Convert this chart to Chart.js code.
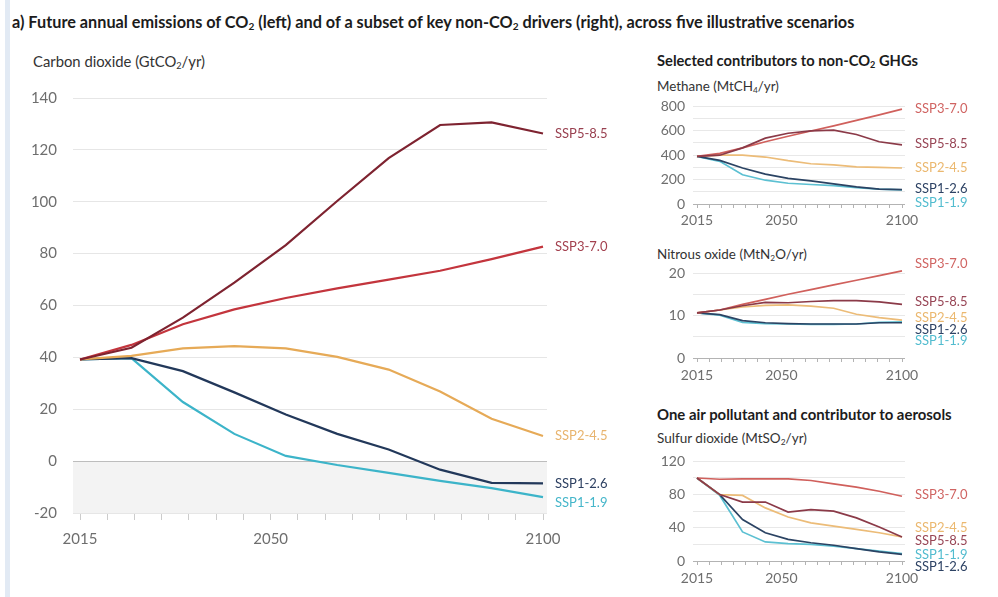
<!DOCTYPE html>
<html>
<head>
<meta charset="utf-8">
<script src="https://cdn.jsdelivr.net/npm/chart.js@4.4.1/dist/chart.umd.min.js"></script>
<style>
  html, body { margin: 0; padding: 0; background: #fff; }
  body { width: 998px; height: 597px; position: relative; overflow: hidden; font-family: Lato, "Noto Sans", sans-serif; }
  .edge { position: absolute; left: 5px; top: 0; width: 5px; height: 597px; background: #e2eaf4; }
  .txt { position: absolute; white-space: nowrap; line-height: 1; color: #333; }
  .bold { font-weight: 700; color: #1c1c1c; }
  sub { font-size: 0.62em; vertical-align: -0.2em; line-height: 0; }
  canvas { position: absolute; }
</style>
</head>
<body>
<div class="edge"></div>

<div class="txt bold" style="left:12px; top:14px; font-size:15px;" data-w="843">a) Future annual emissions of CO<sub>2</sub> (left) and of a subset of key non-CO<sub>2</sub> drivers (right), across five illustrative scenarios</div>
<div class="txt" style="left:33px; top:54px; font-size:14px;" data-w="172">Carbon dioxide (GtCO<sub>2</sub>/yr)</div>

<div class="txt bold" style="left:657px; top:54px; font-size:14px;" data-w="261">Selected contributors to non-CO<sub>2</sub> GHGs</div>
<div class="txt" style="left:657px; top:80px; font-size:13px;" data-w="122">Methane (MtCH<sub>4</sub>/yr)</div>
<div class="txt" style="left:657px; top:248px; font-size:13px;" data-w="150">Nitrous oxide (MtN<sub>2</sub>O/yr)</div>
<div class="txt bold" style="left:657px; top:407px; font-size:14px;" data-w="295">One air pollutant and contributor to aerosols</div>
<div class="txt" style="left:657px; top:432px; font-size:13px;" data-w="150">Sulfur dioxide (MtSO<sub>2</sub>/yr)</div>

<canvas id="co2" width="640" height="560" style="left:0; top:0;"></canvas>
<canvas id="ch4" width="350" height="145" style="left:640px; top:90px;"></canvas>
<canvas id="n2o" width="350" height="135" style="left:640px; top:255px;"></canvas>
<canvas id="so2" width="350" height="152" style="left:640px; top:445px;"></canvas>

<script>
// Scenario years (plotted evenly spaced, one category per year)
const years = ['2015', '2020', '2030', '2040', '2050', '2060', '2070', '2080', '2090', '2100'];
const scenarios = ['SSP1-1.9', 'SSP1-2.6', 'SSP2-4.5', 'SSP3-7.0', 'SSP5-8.5'];

// Carbon dioxide, GtCO2/yr
const co2_ssp119 = [39.2, 39.7, 22.8, 10.5, 2.0, -1.5, -4.5, -7.6, -10.4, -13.9];
const co2_ssp126 = [39.2, 39.7, 34.7, 26.5, 18.0, 10.5, 4.5, -3.3, -8.4, -8.6];
const co2_ssp245 = [39.2, 40.6, 43.5, 44.3, 43.5, 40.2, 35.3, 26.8, 16.3, 9.7];
const co2_ssp370 = [39.2, 44.8, 52.8, 58.5, 62.9, 66.6, 70.0, 73.4, 77.9, 82.7];
const co2_ssp585 = [39.2, 43.7, 55.3, 68.8, 83.3, 100.3, 116.8, 129.6, 130.6, 126.3];

// Methane, MtCH4/yr
const ch4_ssp119 = [390, 350, 240, 195, 170, 160, 150, 135, 122, 115];
const ch4_ssp126 = [390, 358, 295, 245, 210, 190, 165, 140, 122, 118];
const ch4_ssp245 = [390, 400, 400, 385, 355, 330, 320, 305, 300, 295];
const ch4_ssp370 = [390, 415, 460, 510, 555, 598, 640, 685, 730, 778];
const ch4_ssp585 = [390, 400, 460, 540, 580, 600, 605, 570, 510, 485];

// Nitrous oxide, MtN2O/yr
const n2o_ssp119 = [10.6, 10.1, 8.4, 8.1, 8.0, 7.9, 7.9, 8.0, 8.4, 8.5];
const n2o_ssp126 = [10.6, 10.2, 8.8, 8.3, 8.1, 8.0, 8.0, 8.0, 8.3, 8.3];
const n2o_ssp245 = [10.6, 11.3, 12.0, 12.4, 12.5, 12.2, 11.7, 10.3, 9.5, 8.9];
const n2o_ssp370 = [10.6, 11.3, 12.6, 13.8, 15.0, 16.1, 17.2, 18.3, 19.4, 20.5];
const n2o_ssp585 = [10.6, 11.3, 12.3, 13.1, 13.0, 13.3, 13.5, 13.5, 13.2, 12.6];

// Sulfur dioxide, MtSO2/yr
const so2_ssp119 = [100, 79, 35, 23, 21, 20, 18, 15, 12, 9];
const so2_ssp126 = [100, 80, 50, 34, 26, 22, 19, 15, 11, 8];
const so2_ssp245 = [100, 80, 79, 64, 53, 46, 42, 38, 34, 29];
const so2_ssp370 = [100, 98.5, 99, 99, 99, 97, 93, 89, 84, 78];
const so2_ssp585 = [100, 80, 71, 71, 59, 62, 60, 52, 41, 29];

// Axis tick labels
const yearTickLabels = [2015, 2050, 2100];
const co2TickLabels = [-20, 0, 20, 40, 60, 80, 100, 120, 140];
const ch4TickLabels = [0, 200, 400, 600, 800];
const n2oTickLabels = [0, 10, 20];
const so2TickLabels = [0, 40, 80, 120];

// Shrink/grow headings to their measured widths
document.querySelectorAll('.txt[data-w]').forEach(el => {
  const target = parseFloat(el.dataset.w);
  const size = parseFloat(el.style.fontSize);
  const w = el.getBoundingClientRect().width;
  if (w > 0) el.style.fontSize = (size * target / w).toFixed(2) + 'px';
});

const mainColors = {
  'SSP1-1.9': ['#3cb4c9', '#45b6ca'],
  'SSP1-2.6': ['#22385a', '#2d4062'],
  'SSP2-4.5': ['#e6aa57', '#e8b46e'],
  'SSP3-7.0': ['#c3353d', '#a3404e'],
  'SSP5-8.5': ['#7e2330', '#994050']
};
const panelColors = {
  'SSP1-1.9': ['#5cc0d2', '#52bccf'],
  'SSP1-2.6': ['#2b4363', '#2d4264'],
  'SSP2-4.5': ['#ecbc78', '#ebb86f'],
  'SSP3-7.0': ['#d0605c', '#d06462'],
  'SSP5-8.5': ['#8b3a48', '#984656']
};

// Names drawn at the right end of every line
const endLabels = {
  id: 'endLabels',
  afterDatasetsDraw(chart, args, opts) {
    const { ctx, chartArea } = chart;
    ctx.save();
    ctx.font = opts.font;
    ctx.textAlign = 'left';
    ctx.textBaseline = 'middle';
    chart.data.datasets.forEach((ds, i) => {
      const pts = chart.getDatasetMeta(i).data;
      const last = pts[pts.length - 1];
      ctx.fillStyle = ds.labelColor;
      ctx.fillText(ds.label, chartArea.right + opts.gap, last.y + (opts.shift[ds.label] || 0));
    });
    ctx.restore();
  }
};

// Grey band for net-negative emissions
const belowZero = {
  id: 'belowZero',
  beforeDraw(chart, args, opts) {
    if (!opts.color) return;
    const { ctx, chartArea, scales } = chart;
    const y0 = scales.y.getPixelForValue(0);
    ctx.save();
    ctx.fillStyle = opts.color;
    ctx.fillRect(chartArea.left - opts.extL, y0, chartArea.right - chartArea.left + opts.extL + opts.extR, chartArea.bottom - y0);
    ctx.restore();
  }
};

function buildChart(id, cfg) {
  const canvas = document.getElementById(id);
  const W = canvas.width, H = canvas.height;
  const a = cfg.area;
  const gridColor = c => (c.tick && c.tick.value === 0) ? cfg.zeroColor : cfg.gridColor;
  const datasets = scenarios.map((name, i) => ({
    label: name,
    data: cfg.values[i],
    borderColor: cfg.colors[name][0],
    labelColor: cfg.colors[name][1],
    borderWidth: cfg.lineWidth,
    pointRadius: 0,
    tension: 0,
    fill: false,
    clip: false
  })).reverse();
  return new Chart(canvas, {
    type: 'line',
    data: { labels: years, datasets },
    options: {
      responsive: false,
      animation: false,
      devicePixelRatio: 1,
      events: [],
      layout: { padding: { left: 0, top: a.top, right: W - a.right - a.extR, bottom: 0 } },
      scales: {
        x: { type: 'category', display: false },
        yr: {
          type: 'linear', position: 'bottom', min: 2015, max: 2100,
          ticks: {
            stepSize: 5, autoSkip: false, maxRotation: 0, padding: cfg.xPad,
            color: '#6e6e6e', font: { family: 'Lato', size: cfg.xFont },
            callback: v => yearTickLabels.includes(v) ? String(v) : ''
          },
          grid: { drawOnChartArea: false, drawTicks: true, tickLength: cfg.xTick, color: cfg.tickColor },
          border: { display: false },
          afterFit: s => { s.height = H - a.bottom; }
        },
        y: {
          type: 'linear', position: 'left', min: cfg.min, max: cfg.max,
          ticks: {
            stepSize: cfg.step, autoSkip: false, padding: cfg.yPad,
            color: '#6e6e6e', font: { family: 'Lato', size: cfg.yFont },
            callback: v => cfg.tickLabels.includes(v) ? String(v) : ''
          },
          grid: { color: gridColor, lineWidth: 1, drawTicks: true, tickLength: a.extL },
          border: { display: false },
          afterFit: s => { s.width = a.left; }
        },
        yR: {
          type: 'linear', position: 'right', min: cfg.min, max: cfg.max,
          ticks: { display: false, stepSize: cfg.step, autoSkip: false },
          grid: { color: gridColor, lineWidth: 1, drawOnChartArea: false, drawTicks: true, tickLength: a.extR },
          border: { display: false },
          afterFit: s => { s.width = a.extR; }
        }
      },
      plugins: {
        legend: { display: false },
        tooltip: { enabled: false },
        endLabels: { font: cfg.labelFont, gap: cfg.labelGap, shift: cfg.shift },
        belowZero: { color: cfg.shade, extL: a.extL, extR: a.extR }
      }
    },
    plugins: [endLabels, belowZero]
  });
}

buildChart('co2', {
  area: { left: 80, right: 543, top: 98, bottom: 513, extL: 7, extR: 4 },
  values: [co2_ssp119, co2_ssp126, co2_ssp245, co2_ssp370, co2_ssp585],
  min: -20, max: 140, step: 20, tickLabels: co2TickLabels,
  colors: mainColors, lineWidth: 2.2,
  gridColor: '#e6e6e6', zeroColor: '#bdbdbd', tickColor: '#cccccc', shade: '#f3f3f3',
  xFont: 15, yFont: 15, xPad: 10, yPad: 16, xTick: 7,
  labelFont: '13px Lato', labelGap: 12,
  shift: { 'SSP1-1.9': 6 }
});

buildChart('ch4', {
  area: { left: 57, right: 262, top: 16, bottom: 114, extL: 4, extR: 3 },
  values: [ch4_ssp119, ch4_ssp126, ch4_ssp245, ch4_ssp370, ch4_ssp585],
  min: 0, max: 800, step: 100, tickLabels: ch4TickLabels,
  colors: panelColors, lineWidth: 1.7,
  gridColor: '#e8e8e8', zeroColor: '#b3b3b3', tickColor: '#b3b3b3', shade: null,
  xFont: 14, yFont: 14, xPad: 4, yPad: 8, xTick: 4,
  labelFont: '13px Lato', labelGap: 13,
  shift: { 'SSP5-8.5': -1, 'SSP1-2.6': -1, 'SSP1-1.9': 13 }
});

buildChart('n2o', {
  area: { left: 57, right: 262, top: 18, bottom: 103, extL: 4, extR: 3 },
  values: [n2o_ssp119, n2o_ssp126, n2o_ssp245, n2o_ssp370, n2o_ssp585],
  min: 0, max: 20, step: 5, tickLabels: n2oTickLabels,
  colors: panelColors, lineWidth: 1.7,
  gridColor: '#e8e8e8', zeroColor: '#b3b3b3', tickColor: '#b3b3b3', shade: null,
  xFont: 14, yFont: 14, xPad: 5, yPad: 8, xTick: 4,
  labelFont: '13px Lato', labelGap: 13,
  shift: { 'SSP3-7.0': -7, 'SSP5-8.5': -3, 'SSP2-4.5': -2, 'SSP1-2.6': 7, 'SSP1-1.9': 19 }
});

buildChart('so2', {
  area: { left: 57, right: 262, top: 16, bottom: 116, extL: 4, extR: 3 },
  values: [so2_ssp119, so2_ssp126, so2_ssp245, so2_ssp370, so2_ssp585],
  min: 0, max: 120, step: 20, tickLabels: so2TickLabels,
  colors: panelColors, lineWidth: 1.7,
  gridColor: '#e8e8e8', zeroColor: '#b3b3b3', tickColor: '#b3b3b3', shade: null,
  xFont: 14, yFont: 14, xPad: 5, yPad: 8, xTick: 4,
  labelFont: '13px Lato', labelGap: 13,
  shift: { 'SSP3-7.0': -1, 'SSP2-4.5': -9, 'SSP5-8.5': 4, 'SSP1-1.9': 1, 'SSP1-2.6': 12 }
});
</script>
</body>
</html>
